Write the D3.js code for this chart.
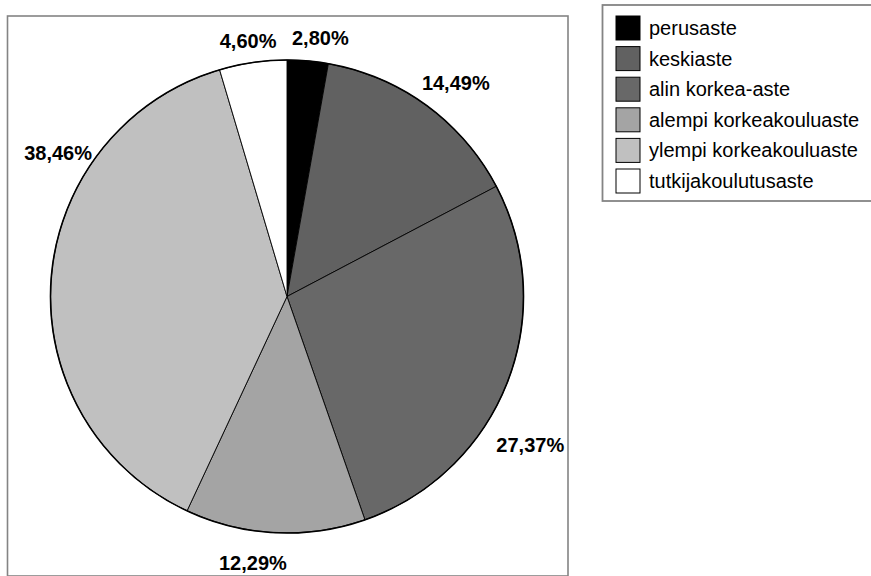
<!DOCTYPE html>
<html>
<head>
<meta charset="utf-8">
<script src="https://cdn.jsdelivr.net/npm/d3@7/dist/d3.min.js"></script>
<style>
  html, body { margin: 0; padding: 0; background: #ffffff; }
  svg { display: block; font-family: "Liberation Sans", Arial, sans-serif; }
</style>
</head>
<body>
<svg id="chart" width="871" height="576"></svg>
<script>
// Education levels and their shares (%)
const categories = ["perusaste", "keskiaste", "alin korkea-aste", "alempi korkeakouluaste", "ylempi korkeakouluaste", "tutkijakoulutusaste"];
const shares = [2.80, 14.49, 27.37, 12.29, 38.46, 4.60];
const valueLabels = ["2,80%", "14,49%", "27,37%", "12,29%", "38,46%", "4,60%"];
const fills = ["#000000", "#616161", "#686868", "#a4a4a4", "#c0c0c0", "#ffffff"];

// Label placement tweaks (degrees added to the slice mid-angle, and label radius)
const labelAngleShift = [2.3, 2.2, 9.9, 4.4, 27.8, -0.4];
const labelRadius = [261, 272, 285, 269, 270, 258];

const svg = d3.select("#chart");
const cx = 287, cy = 296.5, R = 236.5;

// plot area frame
svg.append("rect")
  .attr("x", 7.5).attr("y", 16)
  .attr("width", 560.5).attr("height", 560)
  .attr("fill", "none").attr("stroke", "#848484").attr("stroke-width", 1.6);

const pie = d3.pie().sort(null).value(d => d);
const arcs = pie(shares);
const arc = d3.arc().innerRadius(0).outerRadius(R);

const g = svg.append("g").attr("transform", `translate(${cx},${cy})`);

g.selectAll("path.slice")
  .data(arcs)
  .join("path")
  .attr("class", "slice")
  .attr("d", arc)
  .attr("fill", (d, i) => fills[i])
  .attr("stroke", "#000")
  .attr("stroke-width", 0.9)
  .attr("stroke-linejoin", "round");

// outer rim drawn a touch heavier
g.append("circle")
  .attr("r", R)
  .attr("fill", "none")
  .attr("stroke", "#000")
  .attr("stroke-width", 1.6);

// percentage labels
g.selectAll("text.val")
  .data(arcs)
  .join("text")
  .attr("class", "val")
  .attr("x", (d, i) => {
    const a = (d.startAngle + d.endAngle) / 2 + labelAngleShift[i] * Math.PI / 180;
    return Math.sin(a) * labelRadius[i];
  })
  .attr("y", (d, i) => {
    const a = (d.startAngle + d.endAngle) / 2 + labelAngleShift[i] * Math.PI / 180;
    return -Math.cos(a) * labelRadius[i];
  })
  .attr("text-anchor", "middle")
  .attr("dominant-baseline", "central")
  .attr("font-size", 20)
  .attr("font-weight", "bold")
  .attr("fill", "#000")
  .text((d, i) => valueLabels[i]);

// legend
const legend = svg.append("g");
legend.append("rect")
  .attr("x", 602.5).attr("y", 5)
  .attr("width", 290).attr("height", 196)
  .attr("fill", "#fff").attr("stroke", "#848484").attr("stroke-width", 1.8);

const rowY = d3.scalePoint().domain(categories).range([28, 181]);

const rows = legend.selectAll("g.item")
  .data(categories)
  .join("g")
  .attr("class", "item")
  .attr("transform", d => `translate(0,${rowY(d)})`);

rows.append("rect")
  .attr("x", 616).attr("y", -12)
  .attr("width", 24).attr("height", 24)
  .attr("fill", (d, i) => fills[i])
  .attr("stroke", "#000").attr("stroke-width", 1);

rows.append("text")
  .attr("x", 649).attr("y", 0)
  .attr("dominant-baseline", "central")
  .attr("font-size", 20)
  .attr("fill", "#000")
  .text(d => d);
</script>
</body>
</html>
